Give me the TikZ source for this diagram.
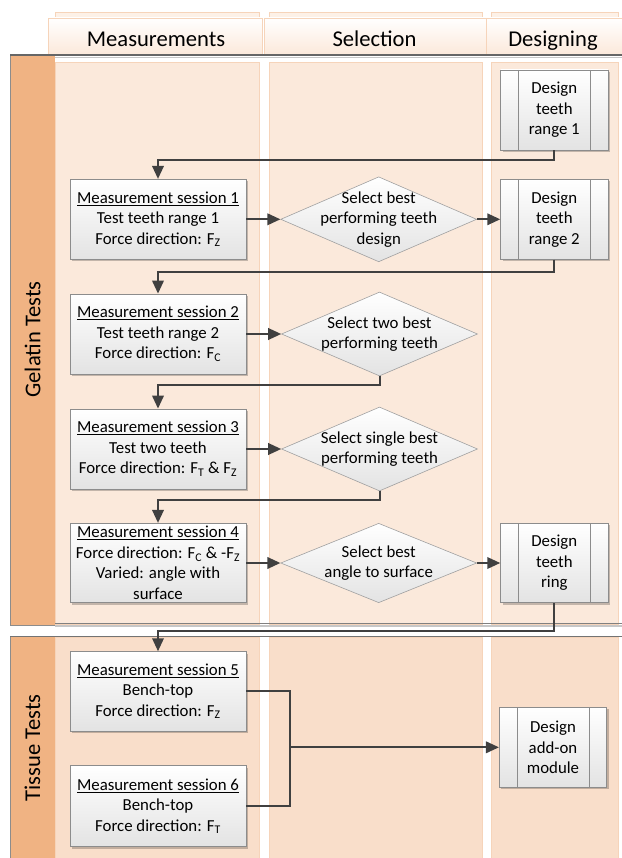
\documentclass[tikz,border=0pt]{standalone}
\usepackage{fontspec}
\setmainfont{Carlito}
\usetikzlibrary{arrows.meta,shapes.geometric,shadows}
\definecolor{laneG}{HTML}{FBE9DB}
\definecolor{laneT}{HTML}{F9DECA}
\definecolor{laneline}{HTML}{F6D4BA}
\definecolor{bandc}{HTML}{F0B383}
\definecolor{poolline}{HTML}{8C8C8C}
\definecolor{headbot}{HTML}{FBE4D2}
\definecolor{headback}{HTML}{FDF1E7}
\definecolor{boxline}{HTML}{8C8C8C}
\definecolor{boxbot}{HTML}{E3E3E3}
\definecolor{decline}{HTML}{A0A0A0}
\definecolor{arrowc}{HTML}{404040}
\newcommand\mybody{\fontsize{16.8pt}{20.5pt}\selectfont}
\newcommand\myhead{\fontsize{22.6pt}{26pt}\selectfont}
\begin{document}
\begin{tikzpicture}[x=1pt,y=-1pt,
  lanerect/.style={draw=laneline, line width=0.6pt},
  headfront/.style={draw=laneline, line width=0.6pt, top color=white, bottom color=headbot},
  headbackr/.style={draw=laneline, line width=0.6pt, fill=headback},
  headtext/.style={font=\myhead, anchor=base, inner sep=0pt},
  proc/.style={draw=boxline, line width=0.8pt, top color=white, bottom color=boxbot,
    minimum width=176pt, minimum height=80pt, inner sep=0pt, align=center, font=\mybody,
    drop shadow={shadow xshift=2pt, shadow yshift=-2pt, opacity=0.22, fill=black}},
  pre/.style={proc, minimum width=107.3pt,
    path picture={\draw[boxline, line width=0.6pt]
      ([xshift=17.6pt]path picture bounding box.north west) -- ([xshift=17.6pt]path picture bounding box.south west)
      ([xshift=-17.6pt]path picture bounding box.north east) -- ([xshift=-17.6pt]path picture bounding box.south east);}},
  dec/.style={diamond, draw=decline, line width=0.6pt, top color=white, bottom color=boxbot,
    minimum width=196pt, minimum height=85pt, inner sep=0pt},
  dtext/.style={font=\mybody, align=center, inner sep=0pt},
  conn/.style={draw=arrowc, line width=2pt},
  arr/.style={conn, -{Triangle[length=13pt,width=11.5pt]}},
  bandtext/.style={font=\myhead, rotate=90, inner sep=0pt}
]
\useasboundingbox (0,0) rectangle (621,858);
\fill[white] (0,0) rectangle (621,858);

% header back rectangles (lane tops)
\draw[headbackr] (55,12) rectangle (259,62);
\draw[headbackr] (269,12) rectangle (482,62);
\draw[headbackr] (491.5,12) rectangle (618,62);
% header front rectangles
\draw[headfront] (48,18) rectangle (262,62.5);
\draw[headfront] (264,18) rectangle (486,62.5);
\draw[headfront] (486.5,18) rectangle (623,62.5);
\node[headtext] (hm) at (156,46.5) {Measurements};
\node[headtext] (hs) at (374.5,46.5) {Selection};
\node[headtext] (hd) at (553,46.5) {Designing};

% pools
\draw[poolline, line width=0.8pt, fill=white] (10,54) rectangle (623,625);
\draw[poolline, line width=0.8pt, fill=white] (10,636) rectangle (623,862);

% lanes gelatin
\draw[lanerect, fill=laneG] (55,62.5) rectangle (259,624);
\draw[lanerect, fill=laneG] (269,62.5) rectangle (482,624);
\draw[lanerect, fill=laneG] (491.5,62.5) rectangle (618,624);
% lanes tissue
\draw[lanerect, fill=laneT] (55,637) rectangle (259,860);
\draw[lanerect, fill=laneT] (269,637) rectangle (482,860);
\draw[lanerect, fill=laneT] (491.5,637) rectangle (618,860);

% bands
\fill[bandc] (10.4,54.4) rectangle (55,624.6);
\fill[bandc] (10.4,636.4) rectangle (55,860);
\draw[poolline, line width=0.8pt] (10,54) -- (10,625) -- (55,625);
\draw[poolline, line width=0.8pt] (10,636) -- (10,860);

% separator lines
\draw[draw=black!60, line width=2pt] (10,55) -- (623,55);
\draw[draw=black!22, line width=1pt] (55,57.3) -- (623,57.3);
\draw[draw=black!50, line width=1.2pt] (55,623.8) -- (623,623.8);
\draw[draw=black!22, line width=1.5pt] (55,626.2) -- (623,626.2);
\draw[draw=black!55, line width=1.8pt] (10,636.5) -- (623,636.5);

\node[bandtext] (gel) at (32.5,339.5) {Gelatin Tests};
\node[bandtext] (tis) at (32.5,748) {Tissue Tests};

% nodes
\node[pre] (dr1) at (554.3,110) {Design\\teeth\\range 1};
\node[proc] (ms1) at (158,219.3) {\underline{Measurement session 1}\\Test teeth range 1\\Force direction: F\textsubscript{Z}};
\node[dec] (d1) at (378.7,219.3) {};
\node[dtext] (d1t) at (d1.center) {Select best\\performing teeth\\design};
\node[pre] (dr2) at (554.3,219.3) {Design\\teeth\\range 2};

\node[proc] (ms2) at (158,334) {\underline{Measurement session 2}\\Test teeth range 2\\Force direction: F\textsubscript{C}};
\node[dec, minimum height=84pt] (d2) at (379.5,334) {};
\node[dtext] (d2t) at (d2.center) {Select two best\\performing teeth};

\node[proc] (ms3) at (158,449) {\underline{Measurement session 3}\\Test two teeth\\Force direction: F\textsubscript{T} \& F\textsubscript{Z}};
\node[dec, minimum height=84pt] (d3) at (379.5,449) {};
\node[dtext] (d3t) at (d3.center) {Select single best\\performing teeth};

\node[proc, minimum height=79.4pt] (ms4) at (158,563) {\underline{Measurement session 4}\\Force direction: F\textsubscript{C} \& -F\textsubscript{Z}\\Varied: angle with\\surface};
\node[dec, minimum height=79.4pt] (d4) at (378.7,563) {};
\node[dtext] (d4t) at (d4.center) {Select best\\angle to surface};
\node[pre, minimum height=79.4pt] (ring) at (554.3,563) {Design\\teeth\\ring};

\node[proc, minimum height=79.3pt] (ms5) at (158,691.3) {\underline{Measurement session 5}\\Bench-top\\Force direction: F\textsubscript{Z}};
\node[proc, minimum height=81pt] (ms6) at (158,806.2) {\underline{Measurement session 6}\\Bench-top\\Force direction: F\textsubscript{T}};
\node[pre] (addon) at (553,747.3) {Design\\add-on\\module};
\coordinate (merge) at (290,747.3);

% connectors
\draw[arr] (dr1.south) -- ++(0,9.3) -| (ms1.north);
\draw[arr] (ms1.east) -- (d1.west);
\draw[arr] (d1.east) -- (dr2.west);
\draw[arr] (dr2.south) -- ++(0,12.7) -| (ms2.north);
\draw[arr] (ms2.east) -- (d2.west);
\draw[arr] (d2.south) -- ++(0,9) -| (ms3.north);
\draw[arr] (ms3.east) -- (d3.west);
\draw[arr] (d3.south) -- ++(0,9) -| (ms4.north);
\draw[arr] (ms4.east) -- (d4.west);
\draw[arr] (d4.east) -- (ring.west);
\draw[arr] (ring.south) -- ++(0,28) -| (ms5.north);
\draw[conn] (ms5.east) -| (merge);
\draw[conn] (ms6.east) -| (merge);
\draw[arr] (merge) -- (addon.west);
\end{tikzpicture}
\end{document}
